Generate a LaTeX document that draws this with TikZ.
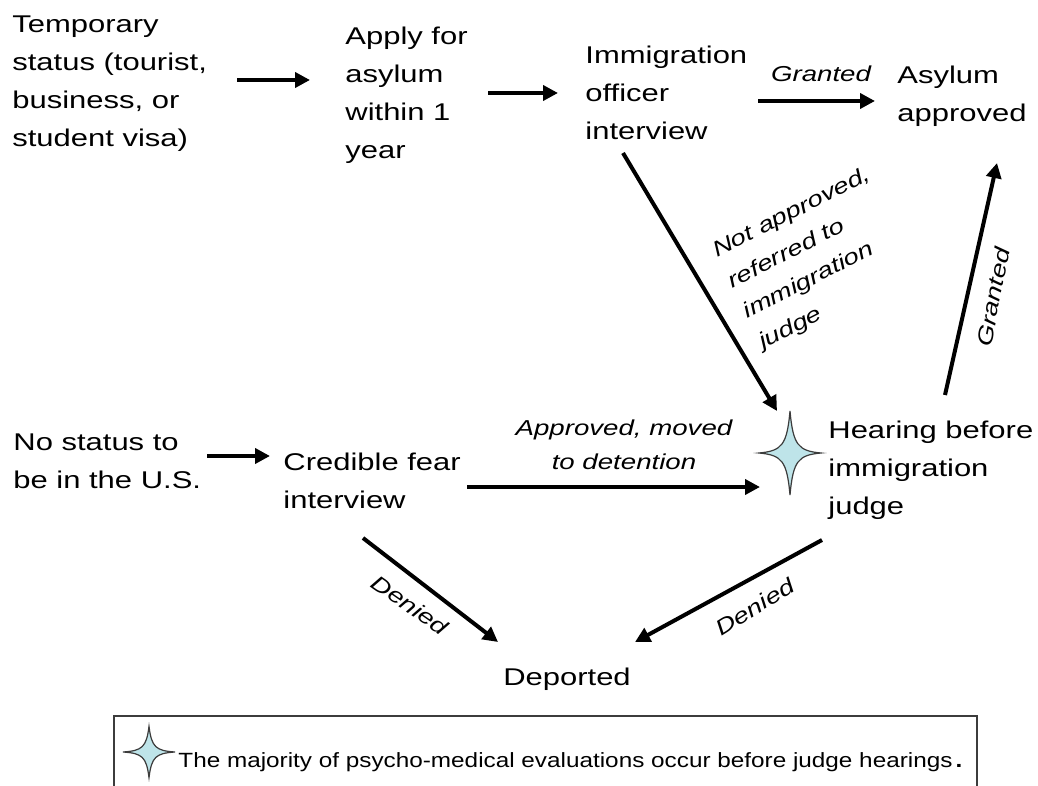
\documentclass[tikz,border=0pt]{standalone}
\usepackage{fontspec}
\setmainfont{Liberation Sans}[FakeStretch=1.28]
\newfontfamily\legendfont{Liberation Sans}[FakeStretch=1.18]
\usetikzlibrary{arrows.meta}

\definecolor{starblue}{RGB}{190,228,233}
\definecolor{staredge}{RGB}{60,60,60}

\tikzset{
  sparkle/.pic={
    \filldraw[fill=starblue, draw=staredge, line width=0.6pt]
      (0,1) .. controls (0.1,0.19) and (0.26,0.05) .. (1,0)
      .. controls (0.26,-0.05) and (0.1,-0.19) .. (0,-1)
      .. controls (-0.1,-0.19) and (-0.26,-0.05) .. (-1,0)
      .. controls (-0.26,0.05) and (-0.1,0.19) .. (0,1) -- cycle;
  }
}

\begin{document}
\begin{tikzpicture}[
     x = 0.5pt, y = -0.5pt,
     stage/.style = {align = left, anchor = north west, inner sep = 0pt,
                     font = \fontsize{12.1}{19}\selectfont},
     tag/.style = {align = center, inner sep = 0pt,
                   font = \itshape\fontsize{10.8}{17}\selectfont},
     flow/.style = {line width = 2pt, -{Triangle[length=7.5pt, width=7.5pt]}}
    ]
    \fill[white] (0,0) rectangle (1038,786);
    \useasboundingbox (0,0) rectangle (1038,786);

    % stages
    \node[stage] (visa) at (12,15) {Temporary\\status (tourist,\\business, or\\student visa)};
    \node[stage] (apply) at (345,27) {Apply for\\asylum\\within 1\\year};
    \node[stage] (officer) at (585,46) {Immigration\\officer\\interview};
    \node[stage] (asylum) at (897,66) {Asylum\\approved};
    \node[stage] (nostatus) at (13,433) {No status to\\be in the U.S.};
    \node[stage] (fear) at (283,453) {Credible fear\\interview};
    \node[stage] (hearing) at (828,421) {Hearing before\\immigration\\judge};
    \node[stage, anchor = north] (deported) at (567,668) {Deported};

    \coordinate (judgestar) at (790,453);
    \path (judgestar) pic[x = 15.5pt, y = 21pt] {sparkle};

    % arrow ends
    \coordinate (visaout) at (237,80);
    \coordinate (applyin) at (310,80);
    \coordinate (applyout) at (488,93);
    \coordinate (officerin) at (558,93);
    \coordinate (officerout) at (758,101);
    \coordinate (asylumin) at (875,101);
    \coordinate (officerdown) at (623,153);
    \coordinate (hearingtop) at (777,411);
    \coordinate (hearingup) at (945,395);
    \coordinate (asylumbelow) at (997,163);
    \coordinate (nostatusout) at (207,456);
    \coordinate (fearin) at (270,456);
    \coordinate (fearout) at (467,487);
    \coordinate (hearingleft) at (760,487);
    \coordinate (feardown) at (363,538);
    \coordinate (deportleft) at (498,642);
    \coordinate (hearingdown) at (822,540);
    \coordinate (deportright) at (635,642);

    \draw[flow] (visaout) -- (applyin);
    \draw[flow] (applyout) -- (officerin);
    \draw[flow] (officerout) -- (asylumin);
    \draw[flow] (officerdown) -- (hearingtop);
    \draw[flow] (hearingup) -- (asylumbelow);
    \draw[flow] (nostatusout) -- (fearin);
    \draw[flow] (fearout) -- (hearingleft);
    \draw[flow] (feardown) -- (deportleft);
    \draw[flow] (hearingdown) -- (deportright);

    % labels
    \node[tag] (granted) at (821,74) {Granted};
    \node[tag, align = left, rotate = 27] (referred) at (815,259)
        {Not approved,\\referred to\\immigration\\judge};
    \node[tag, rotate = 79] (grantedjudge) at (993,297) {Granted};
    \node[tag] (detention) at (624,445) {Approved, moved\\to detention};
    \node[tag, rotate = -35] (deniedfear) at (410,605) {Denied};
    \node[tag, rotate = 32] (deniedjudge) at (755,607) {Denied};

    % legend
    \draw[line width = 0.9pt, draw = staredge] (114,786) -- (114,716) -- (977,716) -- (977,786);
    \coordinate (legendstar) at (149,752);
    \path (legendstar) pic[x = 13pt, y = 12.8pt] {sparkle};
    \node[anchor = base west, inner sep = 0pt, font = \legendfont\fontsize{10.3}{12}\selectfont] (note)
        at (178,767) {The majority of psycho-medical evaluations occur before judge hearings\kern1.5pt{\bfseries .}};
   \end{tikzpicture}
\end{document}
